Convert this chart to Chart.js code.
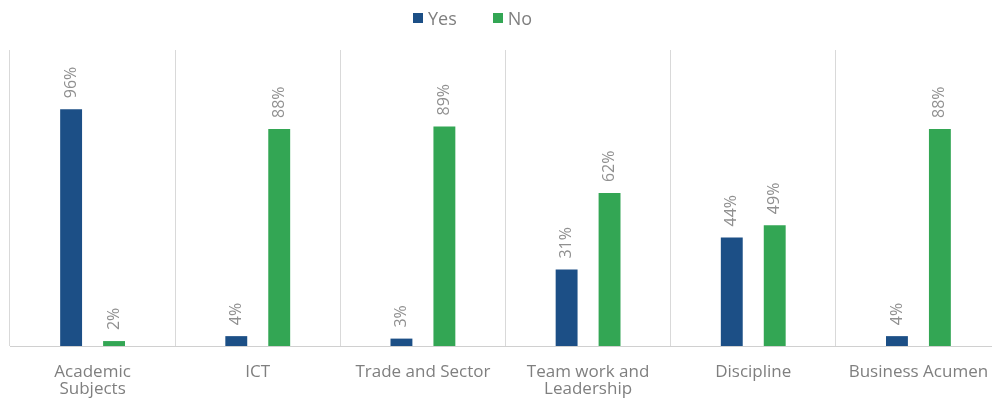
<!DOCTYPE html>
<html>
<head>
<meta charset="utf-8">
<script src="https://cdn.jsdelivr.net/npm/chart.js@4"></script>
<style>
  html, body { margin: 0; padding: 0; overflow: hidden; background: #fff; }
  #wrap { position: relative; width: 1012px; height: 416px; }
  #legend {
    position: absolute; top: 6px; left: 413px;
    font-family: "Open Sans", sans-serif; font-size: 18px; color: #7f7f7f;
    display: flex; align-items: center;
  }
  #legend span.box { display: inline-block; width: 10px; height: 10px; margin-right: 5px; }
  #legend span.item { display: flex; align-items: center; margin-right: 36px; }
</style>
</head>
<body>
<div id="wrap">
  <canvas id="myChart" width="1012" height="416"></canvas>
  <div id="legend"></div>
</div>
<script>
const categorias = [["Academic", "Subjects"], "ICT", "Trade and Sector", ["Team work and", "Leadership"], "Discipline", "Business Acumen"];
const valoresSi = [96, 4, 3, 31, 44, 4];
const valoresNo = [2, 88, 89, 62, 49, 88];
const colorSi = "#1c4f86";
const colorNo = "#33a654";

// etiquetas giradas encima de cada barra
const etiquetasPlugin = {
  id: "etiquetas",
  afterDatasetsDraw(chart) {
    const ctx = chart.ctx;
    ctx.save();
    ctx.font = "16px 'Open Sans'";
    ctx.fillStyle = "#909090";
    ctx.textAlign = "left";
    ctx.textBaseline = "middle";
    chart.data.datasets.forEach((ds, i) => {
      chart.getDatasetMeta(i).data.forEach((bar, j) => {
        ctx.save();
        ctx.translate(bar.x, bar.y - 11);
        ctx.rotate(-Math.PI / 2);
        ctx.fillText(ds.data[j] + "%", 0, 0);
        ctx.restore();
      });
    });
    ctx.restore();
  },
};

const data = {
  labels: categorias,
  datasets: [
    { label: "Yes", data: valoresSi, backgroundColor: colorSi, categoryPercentage: 0.52, barPercentage: 0.51 },
    { label: "No", data: valoresNo, backgroundColor: colorNo, categoryPercentage: 0.52, barPercentage: 0.51 },
  ],
};

const config = {
  type: "bar",
  data,
  options: {
    responsive: false,
    animation: false,
    layout: { padding: { left: 10, right: 11, top: 50 } },
    plugins: { legend: { display: false }, tooltip: { enabled: false } },
    scales: {
      x: {
        grid: { offset: true, color: "#d9d9d9", lineWidth: 1, drawTicks: false },
        border: { color: "#d0d0d0" },
        ticks: { color: "#7f7f7f", font: { family: "Open Sans", size: 17, lineHeight: 1.0 }, padding: 18, maxRotation: 0, autoSkip: false },
      },
      y: { display: false, min: 0, max: 120 },
    },
  },
  plugins: [etiquetasPlugin],
};

const myChart = new Chart(document.getElementById("myChart"), config);

$legend = document.getElementById("legend");
data.datasets.forEach(function (ds) {
  const item = document.createElement("span");
  item.className = "item";
  item.innerHTML = '<span class="box" style="background:' + ds.backgroundColor + '"></span>' + ds.label;
  $legend.appendChild(item);
});
</script>
</body>
</html>
